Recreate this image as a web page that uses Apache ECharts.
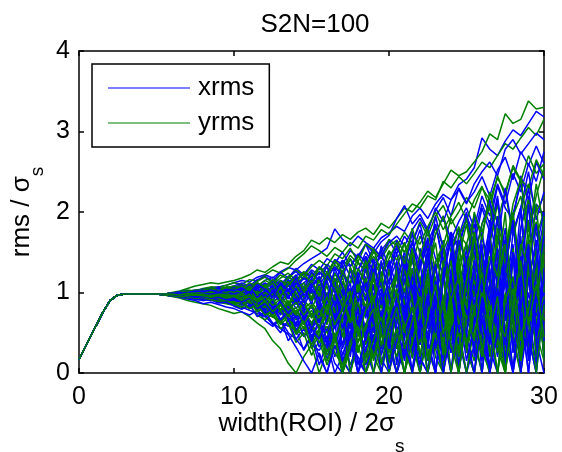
<!DOCTYPE html>
<html>
<head>
<meta charset="utf-8">
<script src="https://cdn.jsdelivr.net/npm/echarts@6/dist/echarts.min.js"></script>
<style>html,body{margin:0;padding:0;background:#fff;}#c{width:562px;height:452px;}</style>
</head>
<body>
<div id="c"></div>
<script>
// shared start of every run (all runs coincide here)
const rampX = [0,0.5,1,1.5,2,2.5,3,3.5,4,4.5,5];
const rampY = [0.17,0.36,0.55,0.74,0.90,0.97,0.98,0.98,0.98,0.98,0.98];
// sample positions of the individual runs
const gridX = [5.5,6,6.5,7,7.5,8,8.5,9,9.5,10,
  10.5,11,11.5,12,12.5,13,13.5,14,14.5,15,
  15.5,16,16.5,17,17.5,18,18.5,19,19.5,20,
  20.5,21,21.5,22,22.5,23,23.5,24,24.5,25,
  25.5,26,26.5,27,27.5,28,28.5,29,29.5,30];

const xrmsRuns = [
 [.98,.99,1.00,1.01,1.03,1.04,1.06,1.07,1.09,1.12, 1.15,1.13,1.19,1.22,1.18,1.26,1.31,1.28,1.36,1.42, 1.48,1.55,1.79,1.66,1.58,1.70,1.62,1.55,1.68,1.74, 1.82,1.76,1.95,2.05,1.92,2.10,2.22,2.15,2.34,2.41, 2.55,2.92,2.78,2.70,2.88,3.02,2.95,3.10,3.25,3.18],
 [.98,.97,.98,1.00,.99,1.01,1.03,1.02,1.05,1.08, 1.04,1.10,1.07,1.15,1.19,1.12,1.08,1.21,1.25,1.18, 1.30,1.22,1.41,1.35,1.52,1.44,1.60,1.49,1.63,1.71, 1.92,2.08,1.85,1.97,1.78,2.02,2.18,1.95,2.30,2.12, 2.25,2.44,2.20,2.52,2.68,2.40,2.75,2.58,2.82,2.60],
 [.98,.98,.97,.96,.97,.95,.96,.94,.97,.99, 1.02,.96,1.05,1.10,.98,1.08,1.15,1.02,1.12,1.20, 1.08,1.25,1.15,.92,1.30,1.18,1.40,1.05,1.35,1.22, 1.48,1.10,1.62,1.35,1.80,1.42,1.25,1.70,1.55,1.92, 1.60,2.05,1.75,2.20,1.45,1.98,2.35,1.80,2.10,1.95],
 [.98,.97,.96,.94,.93,.91,.92,.89,.87,.85, .82,.78,.74,.70,.62,.55,.48,.32,.15,0, .25,0,.42,.18,0,.55,.30,0,.62,.38, 0,.48,.85,.20,0,.70,.35,1.05,.40,0, .65,1.10,.30,0,.85,.45,1.20,.15,.90,.50],
 [.98,.98,.99,.98,.97,.98,.96,.97,.95,.93, .96,.90,.88,.94,.82,.86,.78,.92,.70,.85, .62,.95,.72,.45,1.05,.80,.38,.98,1.15,.60, 1.25,.75,.30,1.10,1.40,.85,.20,1.30,.95,1.55, .70,1.35,1.80,.55,1.15,1.60,.30,1.45,1.05,.40],
 [.98,.99,1.01,1.02,1.01,1.04,1.03,1.06,1.05,1.08, 1.12,1.08,1.16,1.20,1.14,1.25,1.18,1.30,1.22,1.35, 1.28,1.42,1.36,1.50,1.33,1.45,1.60,1.38,1.52,1.65, 1.48,1.70,1.55,1.30,1.62,1.85,1.40,1.75,1.58,1.95, 1.72,2.10,1.85,2.32,2.05,1.90,2.45,2.15,2.62,2.40],
 [.97,.96,.94,.92,.90,.86,.88,.85,.82,.80, .76,.72,.78,.65,.58,.66,.50,.42,.55,.35, .28,.45,.12,0,.35,.20,0,.48,.25,.60, .35,0,.72,.45,.95,.30,0,.80,.55,1.10, .40,0,.95,.60,1.25,.25,.80,0,1.05,.70],
 [.98,.97,.98,.99,.97,.96,.98,.95,.97,.94, .98,.92,.95,1.02,.88,.96,1.05,.85,.98,.90, 1.10,.82,.70,1.02,.55,.92,1.20,.65,.88,.40, .95,.60,1.22,.35,.80,1.38,.50,0,.90,1.20, .55,1.50,.80,.20,1.30,.95,1.70,.45,0,1.15],
 [.98,.99,.98,1.00,1.02,1.01,1.03,1.05,1.04,1.06, 1.09,1.05,1.12,1.08,1.15,1.10,1.20,1.26,1.16,1.28, 1.22,1.35,1.27,1.40,1.32,1.48,1.38,1.55,1.45,1.62, 1.70,1.58,1.78,1.92,1.75,2.05,1.88,2.15,2.28,2.10, 2.35,2.50,2.62,2.45,2.78,2.90,2.72,2.85,2.98,2.90],
 [.98,.97,.95,.96,.93,.94,.90,.92,.88,.86, .90,.80,.85,.72,.60,.68,.40,.55,.28,.45, .10,.38,0,.22,.50,.15,0,.42,.70,.30, 0,.55,.25,.90,.40,0,.65,1.15,.35,.80, 1.25,.40,0,.75,1.40,.60,.20,1.00,.55,1.35],
 [.98,.98,.97,.99,1.00,.98,1.01,.99,1.02,1.00, 1.04,.98,1.08,1.02,.95,1.10,1.00,1.14,.92,1.06, 1.18,.90,1.25,1.05,.85,1.30,1.12,.78,1.20,1.40, 1.05,1.52,.90,1.35,1.68,1.10,.75,1.45,1.80,1.20, 1.62,.95,1.90,1.40,.80,1.75,2.05,1.20,1.55,.90],
 [.98,.97,.98,.96,.95,.97,.94,.96,.93,.95, .91,.96,.86,.90,.82,.75,.88,.70,.78,.62, .75,.50,.85,.35,.68,.90,.45,.20,.75,.95, .50,.15,.88,1.10,.40,0,.95,.60,1.25,.30, 0,.90,1.30,.50,.10,1.10,.70,1.55,.25,.85],
 [.98,.99,.99,1.01,1.00,1.02,1.01,1.03,1.02,1.05, 1.02,1.08,1.04,1.12,1.06,1.15,1.10,1.05,1.18,1.12, 1.25,1.18,1.32,1.20,1.42,1.28,1.50,1.35,1.44,1.30, 1.55,1.40,1.62,1.85,1.50,1.72,1.95,1.65,1.88,2.05, 1.80,2.20,1.95,2.35,2.10,2.48,2.25,2.60,2.38,2.75],
 [.98,.98,.97,.97,.96,.95,.97,.94,.95,.92, .95,.88,.92,.85,.90,.78,.86,.74,.82,.70, .85,.62,.95,.55,.80,1.05,.48,.72,1.00,.58, .85,.40,1.10,.65,.30,1.00,1.30,.55,.20,.90, 1.20,.65,0,1.05,.45,1.45,.80,.35,1.25,.60],
 [.98,.98,1.00,.99,1.01,1.00,.98,1.02,1.00,1.03, 1.00,1.07,.97,1.05,1.13,1.00,1.08,1.18,1.04,1.12, 1.00,1.22,1.10,1.35,.95,1.28,1.45,1.15,1.58,1.30, 1.65,1.25,1.50,1.78,1.30,1.95,1.55,1.20,1.70,2.00, 1.45,1.85,2.15,1.60,2.30,1.75,2.05,2.50,1.90,2.25],
 [.97,.96,.95,.93,.92,.93,.90,.91,.88,.89, .85,.88,.80,.83,.74,.79,.66,.58,.70,.45, .52,.30,.60,.12,.40,0,.28,.55,.18,0, .45,.22,.70,0,.50,.90,.15,.60,0,.75, .30,.95,.50,0,.70,1.15,.25,.85,.40,0],
 [.98,.97,.97,.95,.96,.94,.95,.92,.93,.90, .94,.86,.91,.80,.88,.72,.84,.60,.78,.50, .88,.35,.70,1.00,.20,.82,.55,1.10,.30,.95, .10,.85,1.30,.40,1.05,0,.75,1.45,.50,1.20, .20,1.05,1.60,.35,.95,1.50,0,1.25,.70,1.85],
 [.98,.98,.99,1.00,.98,1.01,.99,1.00,.98,1.02, .97,1.06,.94,1.10,.90,1.04,1.16,.92,1.08,.85, 1.20,.95,.70,1.28,1.00,.60,1.35,.85,1.15,.50, 1.40,.90,.45,1.55,1.10,.35,1.30,1.70,.80,1.45, .60,1.75,1.20,.25,1.60,1.00,2.05,.70,1.40,1.90],
 [.98,.97,.96,.96,.94,.95,.93,.90,.92,.88, .84,.90,.78,.70,.82,.64,.58,.72,.45,.60, .32,.55,.20,.48,.75,.10,.40,.68,0,.52, .85,.25,.60,1.00,.15,.70,.40,1.10,0,.65, 1.05,.30,.80,1.35,.10,.95,.55,1.20,.25,1.00],
 [.98,.99,.98,.99,1.01,1.00,1.02,1.00,1.03,1.01, 1.05,1.00,1.10,1.03,1.14,.98,1.12,1.22,1.05,1.26, 1.15,1.32,1.08,1.40,1.20,.98,1.45,1.25,1.52,1.10, 1.60,1.30,1.75,1.05,1.48,1.85,1.35,.95,1.65,1.40, 1.95,1.20,1.70,2.15,1.45,.90,1.80,2.30,1.55,2.00],
 [.98,.97,.98,.97,.95,.96,.97,.94,.96,.95, .90,.97,.85,.93,.80,.89,.74,.92,.66,.84, .55,.90,.65,1.02,.40,.78,.95,.30,.70,1.08, .45,.95,.20,.72,1.15,.35,.90,0,.60,1.30, .85,.15,1.10,.55,1.50,.80,.30,1.15,1.65,.45],
 [.98,.98,.97,.99,.97,.98,1.00,.97,.99,.96, 1.00,.94,.98,.90,1.04,.86,.96,.80,.92,1.02, .78,1.00,.62,.88,1.12,.50,.84,.25,.72,1.00, .55,.18,.80,1.15,.40,.95,.60,1.25,.20,.85, 1.30,.50,0,.90,1.20,.35,1.45,.75,.10,1.05],
 [.97,.96,.95,.94,.92,.90,.91,.87,.88,.83, .79,.85,.70,.76,.62,.50,.66,.42,.30,.48, .20,0,.34,.15,.45,0,.30,.58,.12,.40, 0,.30,.62,.18,0,.45,.80,.25,.55,0, .35,.72,.10,.50,.95,0,.60,.28,.85,.40],
 [.98,.99,1.00,.99,1.01,1.02,1.00,1.03,1.01,1.04, 1.00,1.07,1.02,.96,1.10,1.04,.92,1.12,1.00,1.18, .90,1.24,1.05,.80,1.30,1.12,.68,1.20,.95,1.38, .75,1.15,1.48,.60,1.25,.90,1.60,1.05,.55,1.40, 1.70,.85,1.35,1.95,.65,1.50,1.15,2.10,.95,1.60],
 [.98,.97,.98,.96,.96,.97,.94,.95,.93,.94, .89,.93,.85,.79,.87,.74,.82,.68,.76,.56, .66,.42,.74,.58,.30,.64,.85,.38,.60,.15, .52,.80,.28,.66,0,.48,.90,.32,.70,1.00, .25,.75,1.10,.40,.85,.05,.65,1.20,.45,.90],
 [.98,.98,.99,.97,.98,.99,.97,.99,.98,1.00, .96,1.02,.94,1.00,1.08,.95,1.04,.88,1.00,1.10, .94,1.15,.82,1.05,.72,1.18,.90,1.30,.65,1.08, 1.25,.70,1.02,1.40,.55,1.15,.85,1.50,.65,1.10, 1.60,.75,1.25,.40,1.70,1.05,.50,1.40,1.85,.80],
 [.98,.97,.98,.96,.97,.95,.93,.95,.92,.90, .95,.84,.90,.76,.88,.66,.80,.52,.74,.38, .70,.15,.62,.90,0,.58,.85,.28,.75,0, .60,1.05,.20,.78,0,.95,.45,1.25,.10,.70, 1.10,0,.80,1.40,.35,1.00,0,.65,1.30,.20],
 [.98,.98,.99,.98,1.00,.99,.97,1.00,.98,.97, 1.01,.95,1.06,.92,1.02,.88,1.10,.96,.82,1.05, .90,.70,1.12,.55,.98,1.20,.40,.85,1.05,.30, .95,1.25,.50,.10,.88,1.35,.60,.25,1.10,.75, .30,1.20,.90,1.55,.40,0,1.10,1.60,.50,1.25],
 [.97,.96,.96,.94,.95,.92,.93,.90,.89,.91, .86,.82,.89,.74,.80,.66,.76,.58,.68,.46, .60,.35,.72,.22,.50,.80,.10,.45,.65,.05, .40,.72,0,.55,.98,.30,.68,0,.85,.50, 0,.70,.35,1.05,.15,.80,1.20,.45,0,.90],
 [.98,.98,.97,.99,.98,1.00,.98,.99,1.01,.98, 1.02,.97,1.07,.93,1.00,1.12,.95,1.05,.87,1.15, .80,1.22,1.00,.68,1.30,.88,1.12,.60,1.40,.95, .70,1.35,1.05,.42,1.50,.80,1.20,1.65,.55,1.30, .85,1.60,.35,1.25,1.80,.70,1.45,.20,1.05,1.70],
 [.98,.97,.97,.96,.94,.95,.93,.94,.91,.92, .88,.94,.80,.86,.74,.90,.68,.62,.80,.55, .42,.68,.90,.30,.62,0,.48,.78,.22,.55, .88,.35,.05,.66,.42,.92,0,.50,.80,.15, .60,.95,0,.50,1.15,.30,.75,0,.95,.55],
 [.98,.99,.99,1.00,1.02,1.01,1.03,1.00,1.04,1.02, 1.06,.99,1.10,1.04,.94,1.12,1.02,1.18,.96,1.08, 1.20,.92,1.30,1.08,.78,1.25,1.00,1.42,.85,1.15, 1.38,.65,1.20,.95,1.55,.50,1.12,1.75,.90,.45, 1.40,1.00,1.65,.55,1.30,1.90,.80,1.50,.40,1.20]
];

const yrmsRuns = [
 [.98,1.00,1.02,1.05,1.08,1.10,1.12,1.11,1.13,1.15, 1.18,1.22,1.28,1.25,1.32,1.38,1.35,1.45,1.52,1.65, 1.60,1.68,1.62,1.72,1.66,1.75,1.80,1.72,1.86,1.80, 1.92,2.05,2.00,2.12,2.26,2.18,2.35,2.52,2.45,2.50, 2.62,2.75,2.97,2.90,3.22,3.10,3.15,3.38,3.28,3.30],
 [.98,.99,1.01,1.03,1.02,1.05,1.07,1.06,1.09,1.12, 1.10,1.16,1.14,1.22,1.28,1.24,1.30,1.40,1.48,1.58, 1.52,1.45,1.56,1.50,1.62,1.55,1.70,1.65,1.78,1.72, 1.85,1.98,2.10,2.05,2.20,2.15,2.38,2.30,2.44,2.35, 2.48,2.62,2.55,2.70,2.85,2.78,2.92,3.05,2.95,3.15],
 [.97,.95,.93,.90,.88,.86,.84,.80,.77,.74, .76,.70,.62,.55,.40,.30,.12,0,.20,.35, 0,.28,.50,.15,0,.40,.62,.22,0,.45, .70,.30,0,.55,.85,.40,.10,.75,1.00,.35, 0,.60,1.10,.45,.80,0,.95,1.30,.50,.15],
 [.98,.98,.99,.97,.98,1.00,.99,.97,1.01,.99, 1.03,.96,1.01,1.08,.94,1.02,1.12,.98,1.07,.92, 1.15,.88,1.05,1.28,.95,1.10,.75,1.22,1.38,.92, 1.20,1.45,.85,1.30,1.60,1.00,1.52,1.75,1.15,1.40, 1.85,1.25,1.60,2.10,1.50,1.95,1.30,2.20,1.70,2.00],
 [.98,.97,.97,.96,.98,.95,.96,.93,.95,.92, .88,.93,.85,.80,.90,.76,.84,.68,.80,.60, .72,.95,.55,.82,.40,.90,1.08,.50,.78,.30, .88,1.15,.45,.95,1.25,.60,.25,1.05,1.35,.70, .40,1.20,1.55,.75,.35,1.40,.90,1.65,.60,1.10],
 [.98,.99,1.00,1.02,1.01,1.03,1.05,1.04,1.07,1.06, 1.10,1.06,1.14,1.19,1.12,1.22,1.16,1.28,1.20,1.32, 1.40,1.33,1.48,1.42,1.55,1.38,1.60,1.52,1.45,1.66, 1.58,1.75,1.62,1.88,1.70,1.95,2.08,1.85,2.00,2.18, 2.05,2.30,2.15,2.42,2.25,2.55,2.38,2.70,2.48,2.60],
 [.98,.97,.96,.95,.93,.94,.91,.92,.89,.90, .86,.82,.88,.78,.72,.80,.65,.70,.55,.62, .45,.58,.30,.48,.10,.35,0,.25,.52,.15, .40,0,.65,.35,.80,.20,0,.58,.92,.45, .15,.75,1.05,.30,0,.85,.50,1.20,.35,.90],
 [.98,.98,.97,.98,.99,.97,.98,1.00,.98,1.01, .97,1.04,.99,.93,1.05,.96,1.10,.90,1.02,1.15, .95,1.20,1.02,.85,1.30,1.10,.90,1.35,1.05,1.25, .95,1.40,1.18,.80,1.50,1.25,1.65,.90,1.45,1.85, 1.30,1.70,1.10,1.95,1.55,.95,1.80,2.15,1.40,1.75],
 [.98,.97,.98,.96,.97,.95,.96,.94,.92,.94, .90,.95,.84,.88,.78,.85,.72,.66,.78,.58, .68,.42,.80,.55,.25,.70,.45,.88,.30,.62, .15,.75,.45,1.00,.30,0,.85,.55,1.15,.25, .70,1.25,.20,.95,.55,0,1.05,.65,1.40,.35],
 [.98,.99,.98,1.00,1.01,.99,1.02,1.01,1.04,1.02, 1.06,1.01,1.09,1.04,1.12,1.06,1.15,1.09,1.20,1.13, 1.26,1.15,1.35,1.22,1.10,1.38,1.25,1.45,1.30,1.52, 1.40,1.62,1.35,1.70,1.50,1.80,1.58,1.92,1.72,1.60, 1.95,1.75,2.10,1.88,2.25,1.70,2.05,2.35,2.00,2.20],
 [.98,.98,.97,.99,.98,.97,.99,.96,.98,.97, .94,.99,.92,.96,.88,.95,.85,.92,.80,.88, .75,.85,.68,.78,.55,.70,.42,.60,.25,.48, 0,.35,.60,.20,.80,.45,0,.70,.95,.38, .85,.20,1.10,.60,0,.90,1.30,.45,1.00,.25],
 [.98,.98,.99,.98,.97,.99,.97,.98,.96,.99, 1.00,.94,1.03,.97,.90,1.05,.95,.86,1.04,.92, 1.08,.80,1.18,.65,1.00,1.22,.72,1.10,.55,1.30, .80,1.35,.60,1.15,1.50,.70,1.28,.40,1.60,1.00, 1.40,.55,1.70,1.10,.30,1.55,.85,1.85,1.20,.65],
 [.98,.99,1.00,1.01,1.03,1.02,1.04,1.03,1.06,1.08, 1.05,1.12,1.08,1.15,1.10,1.18,1.24,1.15,1.26,1.20, 1.32,1.25,1.40,1.30,1.46,1.36,1.28,1.50,1.42,1.58, 1.65,1.50,1.72,1.60,1.82,2.00,1.78,1.95,2.12,1.90, 2.15,2.32,2.05,2.45,2.20,2.58,2.40,2.30,2.65,2.45],
 [.97,.96,.96,.94,.92,.90,.91,.88,.86,.84, .80,.84,.72,.66,.74,.55,.62,.38,.50,.22, .40,.10,.35,0,.28,.55,.18,.42,0,.65, .30,.85,.50,0,.68,.30,.95,.60,0,.80, .45,1.00,.20,.75,1.20,.40,0,.90,.60,1.15],
 [.98,.97,.98,.97,.99,.96,.98,.97,.99,.96, .99,.93,1.00,.95,1.06,.90,.98,1.08,.94,1.00, .85,1.12,.92,1.20,.78,1.05,1.28,.90,1.15,.70, 1.20,.90,1.42,1.05,.65,1.30,1.55,.85,1.25,1.62, 1.05,1.50,.80,1.72,1.25,1.95,1.00,1.60,1.88,1.30],
 [.98,.98,.97,.96,.97,.95,.96,.95,.93,.95, .92,.87,.94,.82,.88,.79,.90,.75,.85,.72, .90,.65,.82,1.00,.60,.85,.48,.95,.70,1.05, .62,.95,.38,1.10,.78,.45,1.20,.68,.25,1.05, .75,1.30,.50,1.10,1.45,.70,.20,1.25,.85,1.50],
 [.98,.97,.96,.97,.95,.96,.94,.95,.93,.91, .93,.87,.90,.82,.86,.75,.80,.70,.76,.62, .80,.50,.72,.92,.42,.68,.20,.58,.85,.35, .70,.95,.25,.60,1.05,.45,0,.78,1.10,.50, 1.30,.40,.95,1.50,.20,.85,1.25,.60,1.55,.30],
 [.98,.99,.99,1.00,1.02,1.00,1.03,1.02,1.00,1.04, 1.07,1.00,1.12,1.05,.98,1.15,1.08,1.20,1.02,1.24, 1.12,1.34,1.05,1.25,1.42,1.15,.95,1.38,1.22,1.50, 1.30,1.62,1.10,1.45,1.78,1.25,1.55,.95,1.70,1.90, 1.40,1.85,2.05,1.55,1.25,1.95,2.20,1.65,2.35,1.80],
 [.97,.96,.95,.93,.94,.91,.92,.89,.90,.86, .82,.88,.76,.82,.70,.64,.74,.55,.46,.60, .38,.52,.25,.10,.42,.28,.55,0,.36,.50, .20,.62,.35,0,.48,.78,.22,.60,.90,.30, 0,.55,.85,.25,.70,1.05,.15,.60,.95,.35],
 [.98,.98,.97,.98,.96,.98,.97,.99,.96,.98, .94,1.01,.91,.97,1.04,.89,1.00,.94,.84,1.02, .86,1.08,.74,1.14,.92,.66,1.18,.88,1.26,.78, 1.05,.58,1.30,.90,1.45,.70,1.20,.40,1.35,1.60, .95,1.45,.60,1.70,1.15,.45,1.55,1.90,1.00,1.40],
 [.98,.97,.98,.96,.97,.95,.97,.96,.94,.96, .92,.96,.88,.83,.92,.78,.86,.72,.90,.68, .82,.60,.98,.45,.75,.90,.35,.68,.95,.25, .80,.50,1.05,.20,.65,1.20,.38,.85,0,.70, 1.15,.45,.90,1.35,.30,1.00,.65,1.45,.15,1.10],
 [.98,.99,1.00,1.01,1.00,1.02,1.04,1.03,1.05,1.04, 1.08,1.03,1.12,1.07,1.16,1.04,1.20,1.12,1.25,1.10, 1.32,1.18,1.40,1.25,1.12,1.46,1.30,1.55,1.20,1.42, 1.62,1.35,1.80,1.48,1.25,1.72,1.95,1.50,1.82,1.30, 2.00,1.65,2.25,1.85,1.50,2.10,2.40,1.75,2.20,2.55],
 [.98,.97,.97,.95,.94,.95,.92,.93,.90,.91, .87,.91,.82,.86,.76,.84,.70,.78,.62,.74, .58,.72,.45,.65,.82,.38,.60,.15,.50,.72, .35,.60,0,.45,.80,.28,.65,.95,.20,.55, .90,.30,.70,0,.55,1.00,.40,.75,1.10,.20],
 [.98,.98,.98,.97,.99,.98,.96,.98,.97,.95, .99,.92,.97,.89,1.00,.94,.84,.98,.90,.80, 1.00,.76,.92,1.10,.64,.96,.80,1.18,.58,.90, 1.20,.70,1.00,.45,1.25,.85,.30,1.10,1.40,.60, 1.00,1.50,.50,1.20,1.65,.70,.25,1.30,.85,1.60],
 [.97,.97,.96,.95,.93,.94,.92,.90,.91,.88, .86,.80,.87,.75,.69,.78,.60,.52,.66,.40, .55,.26,.48,.05,.38,.60,0,.30,.48,.12, .58,0,.40,.72,.18,.50,0,.65,.30,.88, .45,0,.78,.35,1.00,.50,0,.82,.40,.70],
 [.98,.99,.98,.99,1.00,.99,1.01,1.00,.99,1.02, .98,1.06,1.00,1.10,.96,1.05,1.14,.98,1.08,.94, 1.16,.96,1.24,1.05,.88,1.30,1.10,.82,1.35,1.00, 1.25,.85,1.50,1.15,.72,1.38,1.60,1.00,1.45,.80, 1.70,1.20,.85,1.80,1.35,2.00,1.10,1.65,.75,1.95],
 [.98,.97,.96,.96,.94,.93,.95,.91,.92,.89, .85,.90,.78,.84,.70,.62,.76,.50,.64,.30, .48,.15,.40,.66,0,.38,.60,.20,.52,0, .45,.70,.18,.55,0,.62,.90,.28,.50,0, .58,.20,.85,.40,0,.72,1.00,.30,.65,.95],
 [.98,.98,.99,.97,.98,1.00,.98,.99,.97,1.00, .96,1.04,.90,1.00,.95,1.08,.86,1.02,1.12,.90, 1.05,.72,1.18,.95,.60,1.10,.82,1.25,.50,1.02, .70,1.30,.92,.38,1.15,.60,1.40,.85,.20,1.22, .95,1.50,.40,1.10,1.60,.65,.15,1.35,.90,1.70],
 [.97,.96,.95,.95,.93,.94,.91,.89,.90,.86, .88,.80,.84,.72,.78,.60,.70,.48,.58,.35, .52,.22,.45,0,.32,.58,.12,.40,.70,.18, .55,0,.38,.75,.20,.48,.85,0,.62,.35, .80,.30,0,.68,.45,1.05,.20,.70,0,.85],
 [.98,.99,.98,1.00,.99,1.01,1.00,1.02,1.00,1.03, 1.00,1.08,.98,1.05,1.12,.95,1.10,1.18,1.00,1.15, .95,1.25,1.08,.82,1.32,1.00,1.40,.90,1.18,.70, 1.30,1.00,1.55,.75,1.25,1.62,.90,1.40,.60,1.15, 1.75,.90,1.45,1.20,2.00,.70,1.60,1.30,2.10,1.00],
 [.98,.97,.98,.96,.97,.96,.94,.96,.93,.95, .90,.95,.82,.90,.76,.86,.70,.82,.60,.78, .55,.85,.38,.70,.92,.25,.60,.80,.10,.55, .82,.30,.65,1.00,.15,.58,.95,.35,0,.72, .40,1.05,.65,0,.90,1.20,.45,.80,1.30,.20],
 [.98,.98,.97,.99,.97,.98,.96,.98,.95,.97, .93,.98,.88,.95,.84,.92,.78,.88,.72,.85, .68,.95,.60,.80,1.02,.45,.78,.95,.35,.70, 1.00,.55,.82,.20,.70,1.10,.48,.90,1.20,.30, .75,1.25,.50,.95,0,.85,1.40,.60,1.10,.45]
];

const xTicks = [0, 10, 20, 30];
const yTicks = [0, 1, 2, 3, 4];
const BLUE = '#0000ff', GREEN = '#007f00';
const FONT = "'Liberation Sans', Arial, Helvetica, sans-serif";

function runData(vals) {
  const d = rampX.map((x, i) => [x, rampY[i]]);
  gridX.forEach((x, i) => d.push([x, vals[i]]));
  return d;
}

const series = [];
const n = Math.max(xrmsRuns.length, yrmsRuns.length);
for (let i = 0; i < n; i++) {
  if (xrmsRuns[i]) series.push({name: 'xrms', type: 'line', data: runData(xrmsRuns[i]), symbol: 'none', silent: true,
    lineStyle: {color: BLUE, width: 1.5}, itemStyle: {color: BLUE}, xAxisIndex: 0, yAxisIndex: 0});
  if (yrmsRuns[i]) series.push({name: 'yrms', type: 'line', data: runData(yrmsRuns[i]), symbol: 'none', silent: true,
    lineStyle: {color: GREEN, width: 1.5}, itemStyle: {color: GREEN}, xAxisIndex: 0, yAxisIndex: 0});
}

const richX = {
  n: {fontSize: 26, fontFamily: FONT, color: '#000', lineHeight: 26},
  s: {fontSize: 19, fontFamily: FONT, color: '#000', lineHeight: 19, padding: [45, 0, 0, 0]}
};
const richY = {
  n: {fontSize: 26, fontFamily: FONT, color: '#000', lineHeight: 26},
  s: {fontSize: 19, fontFamily: FONT, color: '#000', lineHeight: 19, padding: [32, 0, 0, 0]}
};

const axisCommon = (min, max, interval) => ({
  type: 'value', min, max, interval,
  axisLine: {show: true, onZero: false, lineStyle: {color: '#000', width: 1.5}},
  axisTick: {show: true, inside: true, length: 5, lineStyle: {color: '#000', width: 1.5}},
  splitLine: {show: false}
});

const chart = echarts.init(document.getElementById('c'), null, {renderer: 'canvas'});
chart.setOption({
  animation: false,
  backgroundColor: '#fff',
  title: {text: 'S2N=100', left: 310, textAlign: 'center', top: 7,
    textStyle: {fontSize: 26, fontWeight: 'normal', color: '#000', fontFamily: FONT, lineHeight: 26}},
  legend: {
    data: ['xrms', 'yrms'], orient: 'vertical', left: 92, top: 64,
    icon: 'rect', itemWidth: 82, itemHeight: 1.2, itemGap: 9,
    padding: [11, 15, 11, 16],
    borderColor: '#000', borderWidth: 1.5, backgroundColor: '#fff',
    textStyle: {fontSize: 26, color: '#000', fontFamily: FONT, lineHeight: 26, padding: [0, 0, 0, 3]},
    selectedMode: false
  },
  grid: {left: 79, right: 18, top: 51, bottom: 79, containLabel: false, outerBoundsMode: 'none'},
  xAxis: [
    Object.assign(axisCommon(xTicks[0], xTicks[xTicks.length - 1], 10), {
      position: 'bottom',
      axisLabel: {fontSize: 25, color: '#000', fontFamily: FONT, margin: 12},
      name: '{n|width(ROI) / 2σ}{s|s}', nameLocation: 'middle', nameGap: 38, nameMoveOverlap: false,
      nameTextStyle: {rich: richX}
    }),
    Object.assign(axisCommon(xTicks[0], xTicks[xTicks.length - 1], 10), {
      position: 'top', axisLabel: {show: false}
    })
  ],
  yAxis: [
    Object.assign(axisCommon(yTicks[0], yTicks[yTicks.length - 1], 1), {
      position: 'left',
      axisLabel: {fontSize: 25, color: '#000', fontFamily: FONT, margin: 9},
      name: '{n|rms / σ}{s|s}', nameLocation: 'middle', nameGap: 44, nameRotate: 90, nameMoveOverlap: false,
      nameTextStyle: {rich: richY}
    }),
    Object.assign(axisCommon(yTicks[0], yTicks[yTicks.length - 1], 1), {
      position: 'right', axisLabel: {show: false}
    })
  ],
  series: series
});
</script>
</body>
</html>
